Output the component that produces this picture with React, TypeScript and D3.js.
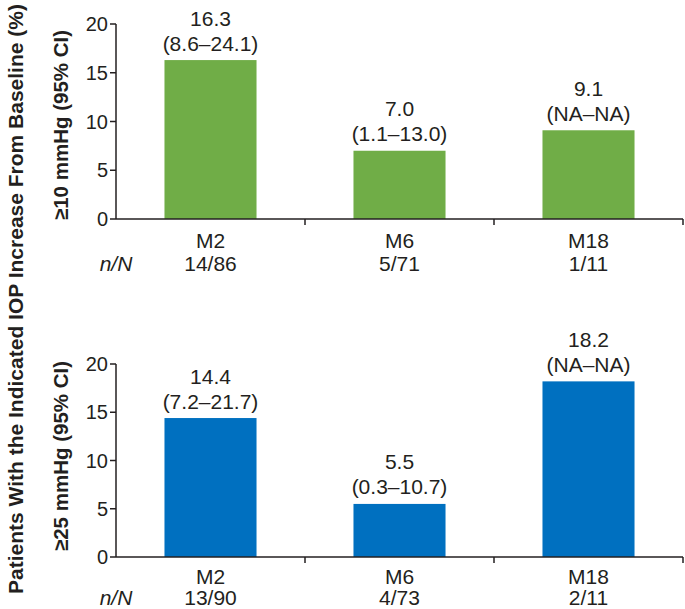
import React from 'react';
import * as d3 from 'd3';

const categories = ['M2', 'M6', 'M18'];
const pct10 = [16.3, 7.0, 9.1];
const ci10 = ['(8.6–24.1)', '(1.1–13.0)', '(NA–NA)'];
const nN10 = ['14/86', '5/71', '1/11'];
const pct25 = [14.4, 5.5, 18.2];
const ci25 = ['(7.2–21.7)', '(0.3–10.7)', '(NA–NA)'];
const nN25 = ['13/90', '4/73', '2/11'];
const yTicks = [0, 5, 10, 15, 20];

const FONT = 'Liberation Sans, Arial, Helvetica, sans-serif';
const INK = '#231f20';

function Panel({ top, bottom, values, cis, counts, color, label, labelY, catOff, countOff }) {
  const x = d3.scaleBand().domain(categories).range([116, 683]).paddingInner(0.513).paddingOuter(0.2565);
  const y = d3.scaleLinear().domain([0, 20]).range([bottom, top]);
  const x0 = x.range()[0];
  const x1 = x.range()[1];
  return (
    <g>
      {categories.map((c, i) => {
        const bx = x(c);
        const by = y(values[i]);
        const cx = bx + x.bandwidth() / 2;
        return (
          <g key={c}>
            <rect x={bx} y={by} width={x.bandwidth()} height={y(0) - by} fill={color} />
            <text x={cx} y={by - 17} textAnchor="middle" dominantBaseline="central" fontSize={21} fill={INK}>{cis[i]}</text>
            <text x={cx} y={by - 42} textAnchor="middle" dominantBaseline="central" fontSize={21} fill={INK}>{values[i].toFixed(1)}</text>
            <text x={cx} y={bottom + catOff} textAnchor="middle" dominantBaseline="central" fontSize={21} fill={INK}>{c}</text>
            <text x={cx} y={bottom + countOff} textAnchor="middle" dominantBaseline="central" fontSize={21} fill={INK}>{counts[i]}</text>
            <line x1={x0 + x.step() * (i + 1)} x2={x0 + x.step() * (i + 1)} y1={bottom} y2={bottom + 6} stroke={INK} strokeWidth={1.5} />
          </g>
        );
      })}
      <line x1={x0} x2={x1} y1={bottom} y2={bottom} stroke={INK} strokeWidth={1.5} />
      <line x1={x0} x2={x0} y1={top} y2={bottom} stroke={INK} strokeWidth={1.5} />
      {yTicks.map(t => (
        <g key={t}>
          <line x1={x0 - 6} x2={x0} y1={y(t)} y2={y(t)} stroke={INK} strokeWidth={1.5} />
          <text x={x0 - 8} y={y(t)} textAnchor="end" dominantBaseline="central" fontSize={20} fill={INK}>{t}</text>
        </g>
      ))}
      <text x={x0} y={bottom + countOff} textAnchor="middle" dominantBaseline="central" fontSize={21} fontStyle="italic" fill={INK}>n/N</text>
      <text transform={`translate(60,${labelY}) rotate(-90)`} textAnchor="middle" dominantBaseline="central" fontSize={20.5} fontWeight="bold" fill={INK}>{label}</text>
    </g>
  );
}

export default function App() {
  return (
    <svg width={685} height={609} style={{ position: 'absolute', left: 0, top: 0, fontFamily: FONT }}>
      <rect width={685} height={609} fill="#fff" />
      <Panel top={24} bottom={219} values={pct10} cis={ci10} counts={nN10} color="#70ad47" label="≥10 mmHg (95% CI)" labelY={125} catOff={21} countOff={44} />
      <Panel top={364} bottom={557} values={pct25} cis={ci25} counts={nN25} color="#0070c0" label="≥25 mmHg (95% CI)" labelY={456} catOff={19} countOff={40} />
      <text transform="translate(15,299) rotate(-90)" textAnchor="middle" dominantBaseline="central" fontSize={21} fontWeight="bold" fill={INK}>Patients With the Indicated IOP Increase From Baseline (%)</text>
    </svg>
  );
}
